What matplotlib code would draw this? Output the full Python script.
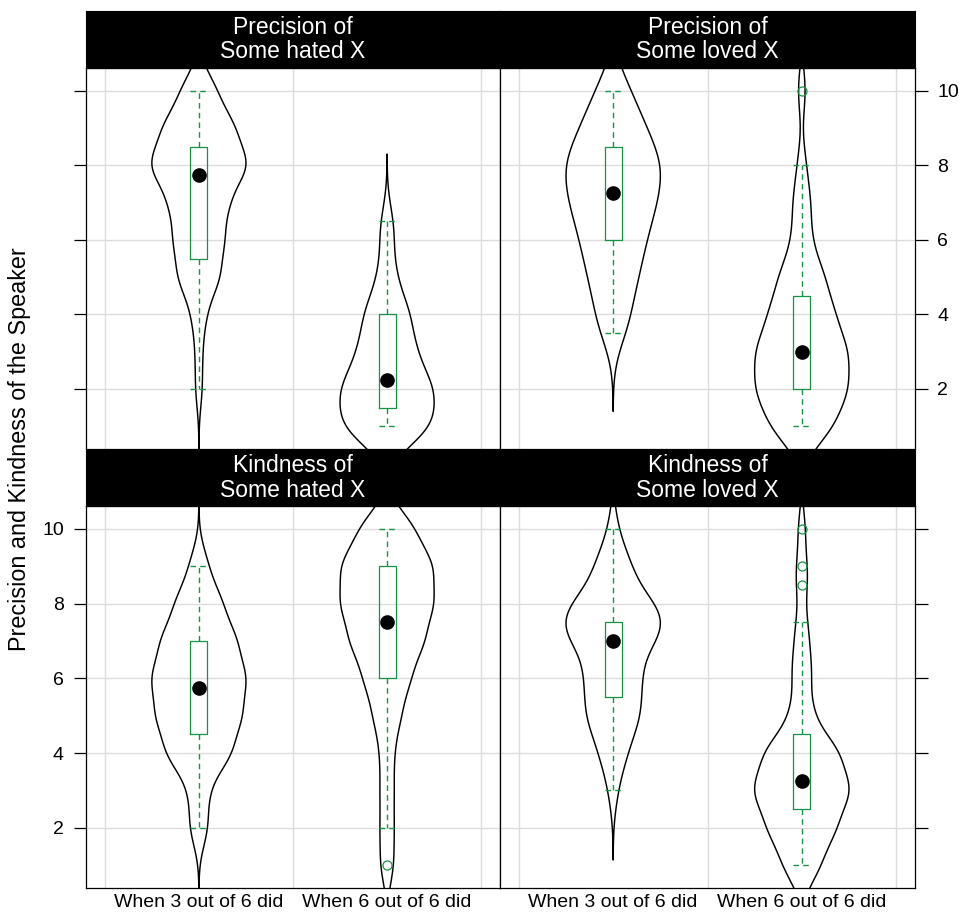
"""Violin + box plots of speaker ratings, lattice-style 2x2 layout."""

import numpy as np
import matplotlib
matplotlib.use("Agg")
import matplotlib.pyplot as plt
from matplotlib import mlab

plt.rcParams["font.family"] = ["Liberation Sans", "DejaVu Sans"]

# --- data ---------------------------------------------------------------
conditions = ["When 3 out of 6 did", "When 6 out of 6 did"]
panel_titles = ["Precision of\nSome hated X", "Precision of\nSome loved X",
                "Kindness of\nSome hated X", "Kindness of\nSome loved X"]

# rating scale and estimated number of responses at each rating
ratings = [1, 1.5, 2, 2.5, 3, 3.5, 4, 4.5, 5, 5.5, 6, 6.5, 7, 7.5, 8, 8.5, 9, 9.5, 10]
prec_hated_3 = [0, 0, 1, 0, 1, 0, 2, 0, 6, 0, 7, 0, 8, 0, 14, 0, 10, 0, 5]
prec_hated_6 = [10, 0, 10, 0, 6, 0, 5, 0, 2, 0, 1, 1, 0, 0, 0, 0, 0, 0, 0]
prec_loved_3 = [0, 0, 0, 0, 0, 2, 4, 0, 7, 0, 9, 0, 12, 0, 14, 0, 9, 0, 5]
prec_loved_6 = [7, 0, 10, 0, 10, 0, 7, 0, 5, 0, 2, 0, 2, 0, 1, 0, 0, 0, 1]
kind_hated_3 = [0, 0, 2, 0, 2, 0, 7, 0, 9, 0, 10, 0, 8, 0, 5, 0, 2, 0, 0]
kind_hated_6 = [3, 0, 3, 0, 3, 0, 3, 0, 6, 0, 10, 0, 16, 0, 20, 0, 20, 0, 12]
kind_loved_3 = [0, 0, 0, 0, 1, 0, 3, 0, 6, 0, 6, 0, 6, 6, 6, 0, 4, 0, 1]
kind_loved_6 = [5, 0, 9, 0, 13, 0, 10, 0, 3, 0, 2, 1, 1, 1, 0, 1, 1, 0, 1]
counts = [prec_hated_3, prec_hated_6, prec_loved_3, prec_loved_6,
          kind_hated_3, kind_hated_6, kind_loved_3, kind_loved_6]
bandwidth = [0.55, 0.6, 0.7, 0.6, 0.55, 0.55, 0.62, 0.55]

# box-and-whisker summaries (same group order)
box_q1 = [5.5, 1.5, 6.0, 2.0, 4.5, 6.0, 5.5, 2.5]
box_med = [7.75, 2.25, 7.25, 3.0, 5.75, 7.5, 7.0, 3.25]
box_q3 = [8.5, 4.0, 8.5, 4.5, 7.0, 9.0, 7.5, 4.5]
whisk_lo = [2, 1, 3.5, 1, 2, 2, 3, 1]
whisk_hi = [10, 6.5, 10, 8, 9, 10, 10, 7.5]
outliers = [[], [], [], [10], [], [1], [], [8.5, 9, 10]]

GREEN = "#179443"
GRID = "#dcdcdc"
W, H = 959, 914


def rect(x0, y0, x1, y1):
    return [x0 / W, 1 - y1 / H, (x1 - x0) / W, (y1 - y0) / H]


def violin_stats(i):
    data = np.repeat(ratings, counts[i])
    bw = bandwidth[i]
    kde = mlab.GaussianKDE(data, bw_method=bw / np.std(data, ddof=1))
    coords = np.linspace(data.min() - 3 * bw, data.max() + 3 * bw, 300)
    return dict(coords=coords, vals=kde.evaluate(coords), mean=data.mean(),
                median=np.median(data), min=data.min(), max=data.max())


fig = plt.figure(figsize=(W / 100, H / 100), dpi=100)

panel_px = [(86, 68, 500, 449), (500, 68, 915, 449),
            (86, 506, 500, 888), (500, 506, 915, 888)]
strip_px = [(86, 11, 500, 68), (500, 11, 915, 68),
            (86, 450, 500, 506), (500, 450, 915, 506)]
positions = [1, 2]

for p in range(4):
    ax = fig.add_axes(rect(*panel_px[p]))
    idx = [2 * p, 2 * p + 1]

    # violins
    vp = ax.violin([violin_stats(i) for i in idx], positions=positions,
                   widths=0.5, showmeans=False, showextrema=False,
                   showmedians=False)
    for body in vp["bodies"]:
        body.set_facecolor("none")
        body.set_edgecolor("black")
        body.set_alpha(1)
        body.set_linewidth(1.05)
        body.set_zorder(2)

    # boxes
    bstats = [dict(q1=box_q1[i], med=box_med[i], q3=box_q3[i],
                   whislo=whisk_lo[i], whishi=whisk_hi[i], fliers=outliers[i])
              for i in idx]
    dash = (0, (4, 3))
    ax.bxp(bstats, positions=positions, widths=0.09, capwidths=0.09,
           showfliers=True, manage_ticks=False,
           boxprops=dict(color=GREEN, linewidth=0.9),
           whiskerprops=dict(color=GREEN, linewidth=1.0, linestyle=dash),
           capprops=dict(color=GREEN, linewidth=1.0, linestyle=dash),
           medianprops=dict(linewidth=0),
           flierprops=dict(marker="o", markerfacecolor="none",
                           markeredgecolor=GREEN, markersize=6.5,
                           markeredgewidth=0.9))
    ax.plot(positions, [box_med[i] for i in idx], "o", color="black",
            markersize=9.5, zorder=4)

    ax.set_xlim(0.4, 2.6)
    ax.set_ylim(0.39, 10.61)
    ax.set_xticks(positions)
    ax.set_xticks([0.5, 1.5, 2.5], minor=True)
    ax.set_yticks([2, 4, 6, 8, 10])
    ax.grid(True, which="minor", axis="x", color=GRID, linewidth=1.0, zorder=0)
    ax.grid(True, which="major", axis="y", color=GRID, linewidth=1.0, zorder=0)
    ax.set_axisbelow(True)
    ax.tick_params(axis="x", which="both", length=0, pad=4, labelsize=14)
    ax.tick_params(axis="y", length=9, width=0.9, pad=7, labelsize=14)
    for s in ax.spines.values():
        s.set_linewidth(0.9)

    bottom_row = p >= 2
    right_col = p % 2 == 1
    if bottom_row:
        ax.set_xticklabels(conditions)
    else:
        ax.set_xticklabels([])
    if right_col:
        ax.yaxis.tick_right()
        ax.tick_params(axis="y", labelright=not bottom_row)
    else:
        ax.tick_params(axis="y", labelleft=bottom_row)

    sax = fig.add_axes(rect(*strip_px[p]))
    sax.set_facecolor("black")
    sax.set_xticks([])
    sax.set_yticks([])
    for s in sax.spines.values():
        s.set_color("black")
    sax.text(0.5, 0.5, panel_titles[p], color="white", fontsize=16.5,
             ha="center", va="center", linespacing=1.1,
             transform=sax.transAxes)

fig.text(20 / W, 1 - 449 / H, "Precision and Kindness of the Speaker",
         rotation=90, ha="center", va="center", fontsize=16.8)

fig.savefig("out.png", dpi=100)
